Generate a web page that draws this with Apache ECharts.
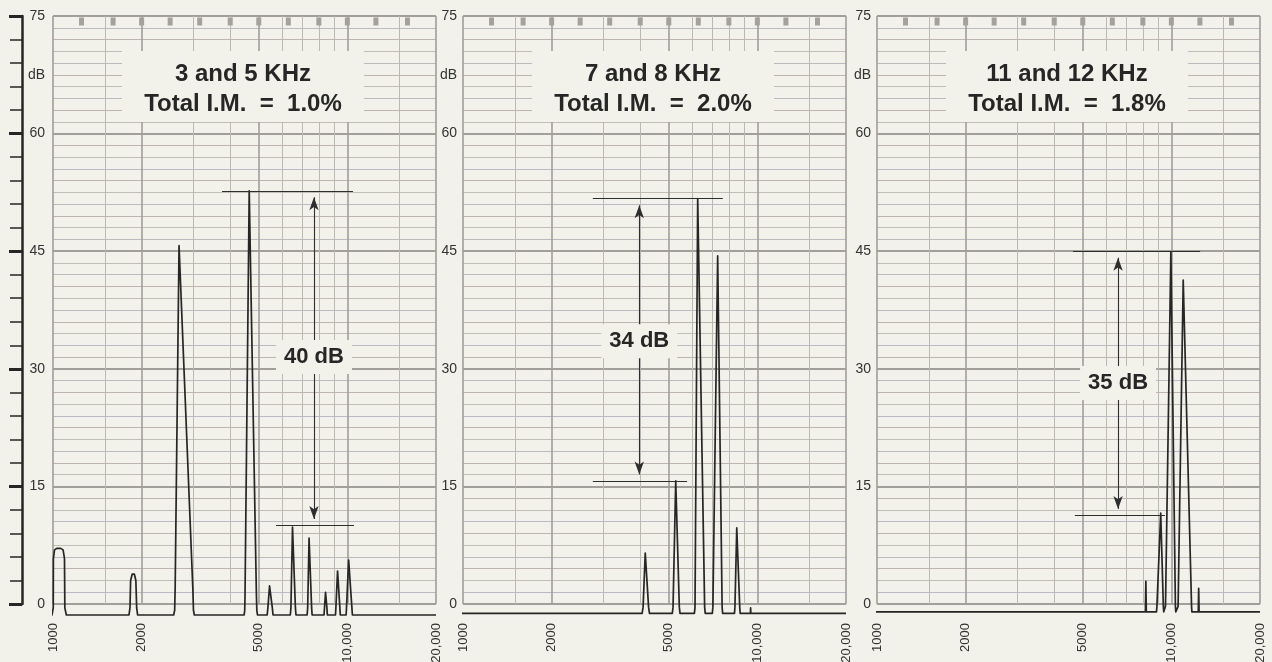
<!DOCTYPE html>
<html><head><meta charset="utf-8">
<script src="https://cdn.jsdelivr.net/npm/echarts@6/dist/echarts.min.js"></script>
<style>html,body{margin:0;padding:0;background:#f2f1ea;}#c{width:1272px;height:662px;}</style>
</head><body><div id="c"></div>
<script>
// ---- data ----
const xTickValues = [1000, 2000, 5000, 10000, 20000];
const xTickLabels = ['1000', '2000', '5000', '10,000', '20,000'];
const xGridMinor = [1500, 3000, 4000, 6000, 7000, 8000, 9000, 15000];
const xGridMajor = [1000, 2000, 5000, 10000, 20000];
const yTickValues = [0, 15, 30, 45, 60, 67.5, 75];
const yTickLabels = ['0', '15', '30', '45', '60', 'dB', '75'];
const topMarks = [1250, 1600, 2000, 2500, 3150, 4000, 5000, 6300, 8000, 10000, 12500, 16000];

const titles = ['3 and 5 KHz', '7 and 8 KHz', '11 and 12 KHz'];
const imTexts = ['Total I.M.  =  1.0%', 'Total I.M.  =  2.0%', 'Total I.M.  =  1.8%'];

const trace1 = [
  [855,-1.4],[992,-1.4],[1002,-0.5],[1003,5.8],[1012,6.9],[1030,7.1],[1062,7.1],[1082,6.9],[1094,5.8],[1097,-0.5],[1110,-1.4],
  [1812,-1.4],[1826,-0.5],[1835,3.0],[1858,3.8],[1890,3.8],[1912,3.0],[1924,-0.5],[1938,-1.4],
  [2570,-1.4],[2590,-0.8],[2600,2.0],[2680,45.7],[2692,45.5],[2985,2.0],[3000,-0.8],[3020,-1.4],
  [4460,-1.4],[4480,-0.8],[4490,1.0],[4640,52.7],[4665,52.7],[4910,1.0],[4925,-0.8],[4950,-1.4],
  [5340,-1.4],[5370,-0.5],[5440,2.3],[5480,2.3],[5560,-0.5],[5590,-1.4],
  [6400,-1.4],[6430,-0.5],[6510,9.8],[6550,9.8],[6660,-0.5],[6690,-1.4],
  [7300,-1.4],[7330,-0.5],[7410,8.4],[7450,8.4],[7560,-0.5],[7590,-1.4],
  [8330,-1.4],[8360,-0.5],[8430,1.5],[8450,1.5],[8520,-0.5],[8550,-1.4],
  [9110,-1.4],[9140,-0.5],[9260,4.2],[9290,4.2],[9430,-0.5],[9460,-1.4],
  [9900,-1.4],[9930,-0.5],[10100,5.6],[10150,5.6],[10360,-0.5],[10400,-1.4],
  [20000,-1.4]
];
const trace2 = [
  [889,-1.2],
  [4060,-1.2],[4090,-0.4],[4160,6.5],[4180,6.5],[4270,-0.4],[4300,-1.2],
  [5140,-1.2],[5170,-0.4],[5280,15.7],[5300,15.7],[5430,-0.4],[5460,-1.2],
  [6110,-1.2],[6140,-0.4],[6270,51.7],[6300,51.7],[6620,-0.4],[6650,-1.2],
  [7030,-1.2],[7060,-0.4],[7330,44.4],[7360,44.4],[7590,-0.4],[7620,-1.2],
  [8360,-1.2],[8390,-0.4],[8510,9.7],[8550,9.7],[8710,-0.4],[8740,-1.2],
  [9470,-1.2],[9485,-0.5],[9500,-1.2],
  [20000,-1.2]
];
const trace3 = [
  [889,-1.0],
  [8160,-1.0],[8190,2.9],[8220,-1.0],
  [8900,-1.0],[8930,-0.3],[9200,11.6],[9230,11.6],[9390,-0.3],[9420,-1.0],
  [9520,-1.0],[9550,-0.3],[9960,44.9],[9990,44.9],[10320,-0.3],[10350,-1.0],
  [10510,-1.0],[10540,-0.3],[10970,41.3],[11000,41.3],[11710,-0.3],[11740,-1.0],
  [12340,-1.0],[12380,2.0],[12420,-1.0],
  [20000,-1.0]
];
const traces = [trace1, trace2, trace3];

const annTop = [52.7, 51.7, 45.0];
const annBottom = [10.0, 15.7, 11.3];
const annTopSpan = [[3750, 10450], [2760, 7630], [4630, 12520]];
const annBottomSpan = [[5720, 10530], [2760, 5770], [4700, 9510]];
const annArrowFreq = [7700, 3970, 6590];
const annLabels = ['40 dB', '34 dB', '35 dB'];
const annLabelLevel = [31.5, 33.5, 28.2];

// ---- layout / style ----
const PAPER = '#f2f1ea';
const INK = '#262626';
const FONT = '"Liberation Sans", Arial, Helvetica, sans-serif';
const lefts = [53, 463, 877];
const GW = 383, GT = 16, GH = 588;
const pxPerDb = GH / 75;
const ARROW = [7, 13];
const arrowInset = (ARROW[1] / 2) / pxPerDb;

const grids = [], xAxes = [], yAxes = [], series = [], graphics = [];
lefts.forEach((L, i) => {
  grids.push({left: L, top: GT, width: GW, height: GH, outerBoundsMode: 'none', containLabel: false});
  const xBase = {type: 'log', logBase: 10, min: 1000, max: 20000, gridIndex: i,
    axisLine: {show: false}, axisLabel: {show: false}};
  xAxes.push(Object.assign({}, xBase, {position: 'bottom',
    axisTick: {show: false, customValues: xGridMinor},
    splitLine: {show: true, lineStyle: {color: '#bcb8b2', width: 1}}}));
  xAxes.push(Object.assign({}, xBase, {position: 'top',
    axisTick: {show: false, customValues: xGridMajor},
    splitLine: {show: true, lineStyle: {color: '#a19e99', width: 1.6}}}));
  xAxes.push({type: 'log', logBase: 10, min: 1000, max: 20000, gridIndex: i,
    position: 'bottom', offset: 10,
    axisLine: {show: false}, axisTick: {show: false}, splitLine: {show: false},
    axisLabel: {show: true, customValues: xTickValues, rotate: 90, margin: 9,
      fontSize: 13, fontFamily: FONT, color: '#333',
      formatter: v => xTickLabels[xTickValues.indexOf(v)]}});
  const yFirst = yAxes.length;
  yAxes.push({type: 'value', min: 0, max: 75, interval: 1.5, gridIndex: i, position: 'left',
    axisLine: {show: false}, axisTick: {show: false}, axisLabel: {show: false},
    splitLine: {show: true, lineStyle: {color: ['#bdb4b0', '#b9bac6', '#c1bcb5'], width: 1}}});
  yAxes.push({type: 'value', min: 0, max: 75, interval: 15, gridIndex: i, position: 'left',
    axisLine: {show: false}, axisTick: {show: false},
    axisLabel: {show: true, customValues: yTickValues, margin: i === 0 ? 8 : 6, fontSize: 14,
      fontFamily: FONT, color: '#333',
      formatter: v => yTickLabels[yTickValues.indexOf(v)]},
    splitLine: {show: true, lineStyle: {color: '#a29f9b', width: 1.8}}});
  if (i === 0) {
    yAxes.push({type: 'value', min: 0, max: 75, interval: 3, gridIndex: i,
      position: 'left', offset: 31,
      axisLine: {show: true, lineStyle: {color: INK, width: 2.5}},
      axisTick: {show: true, length: 12, lineStyle: {color: INK, width: 1.5}},
      axisLabel: {show: false}, splitLine: {show: false}});
    yAxes.push({type: 'value', min: 0, max: 75, interval: 15, gridIndex: i,
      position: 'left', offset: 31,
      axisLine: {show: false},
      axisTick: {show: true, length: 13, lineStyle: {color: INK, width: 3}},
      axisLabel: {show: false}, splitLine: {show: false}});
  }
  const xi = 3 * i + 2, yi = yFirst;
  const f = annArrowFreq[i];
  series.push({type: 'line', xAxisIndex: xi, yAxisIndex: yi, data: traces[i],
    symbol: 'none', clip: false, silent: true, z: 3,
    lineStyle: {color: INK, width: 1.7, join: 'round'},
    markLine: {silent: true, symbol: ['none', 'none'], label: {show: false},
      lineStyle: {color: '#2e2e2e', width: 1.1, type: 'solid'},
      emphasis: {disabled: true},
      data: [
        [{coord: [annTopSpan[i][0], annTop[i]]}, {coord: [annTopSpan[i][1], annTop[i]]}],
        [{coord: [annBottomSpan[i][0], annBottom[i]]}, {coord: [annBottomSpan[i][1], annBottom[i]]}],
        [{coord: [f, annTop[i] - arrowInset], symbol: 'arrow', symbolSize: ARROW},
         {coord: [f, annBottom[i] + arrowInset], symbol: 'arrow', symbolSize: ARROW}]
      ]}});
  series.push({type: 'scatter', xAxisIndex: xi, yAxisIndex: yi, silent: true, z: 4,
    data: xTickValues.map(v => [v, traces[i][0][1]]),
    symbol: 'circle', symbolSize: [8, 5],
    itemStyle: {color: PAPER, borderColor: INK, borderWidth: 1.2, opacity: 1}});
  series.push({type: 'scatter', xAxisIndex: xi, yAxisIndex: yi, silent: true, z: 1,
    data: topMarks.map(v => [v, 74.3]),
    symbol: 'rect', symbolSize: [5, 8], itemStyle: {color: '#a4a19d', opacity: 1}});
  series.push({type: 'scatter', xAxisIndex: xi, yAxisIndex: yi, silent: true, z: 6,
    data: [[f, annLabelLevel[i]]], symbol: 'rect', symbolSize: [76, 34],
    itemStyle: {color: PAPER, opacity: 1},
    label: {show: true, position: 'inside', formatter: annLabels[i],
      fontSize: 22, fontWeight: 'bold', fontFamily: FONT, color: INK}});
  graphics.push({type: 'rect', z: 100, shape: {x: L + 69, y: 51, width: 242, height: 71},
    style: {fill: PAPER}});
  graphics.push({type: 'text', z: 101, style: {text: titles[i], x: L + 190, y: 74,
    align: 'center', verticalAlign: 'middle', font: 'bold 24px ' + FONT, fill: INK}});
  graphics.push({type: 'text', z: 101, style: {text: imTexts[i], x: L + 190, y: 104,
    align: 'center', verticalAlign: 'middle', font: 'bold 24px ' + FONT, fill: INK}});
});

const chart = echarts.init(document.getElementById('c'), null, {renderer: 'canvas'});
chart.setOption({
  backgroundColor: PAPER,
  animation: false,
  grid: grids, xAxis: xAxes, yAxis: yAxes, series: series,
  graphic: {elements: graphics}
});
</script></body></html>
